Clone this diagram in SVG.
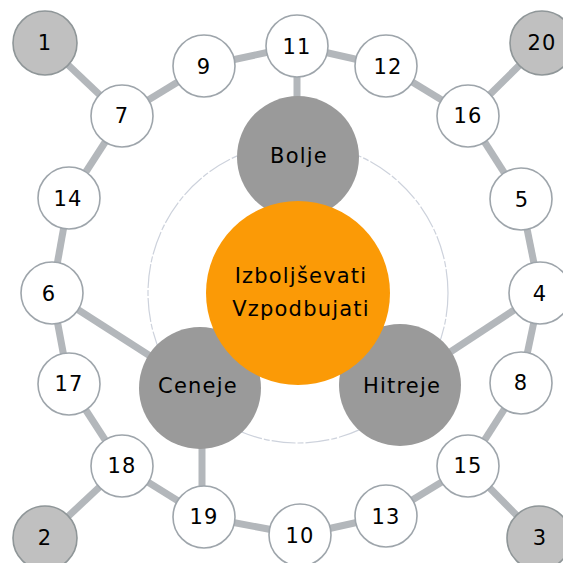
<svg xmlns="http://www.w3.org/2000/svg" width="563" height="563" viewBox="0 0 563 563">
  <style>
    .link { stroke: #b3b7bb; stroke-width: 7; fill: none; }
    .ring { fill: none; stroke: #cdd2dc; stroke-width: 1.2; stroke-dasharray: 24 2 6 2; }
    .node { fill: #ffffff; stroke: #9ea5ab; stroke-width: 1.6; }
    .corner { fill: #c0c0c0; stroke: #8f9698; stroke-width: 1.6; }
    .hub { fill: #9a9a9a; }
    .core { fill: #fb9a06; }
    text { font-family: "DejaVu Sans", Verdana, sans-serif; font-size: 21px; letter-spacing: 1.2px; fill: #000; text-anchor: middle; }
  </style>
  <rect width="563" height="563" fill="#ffffff"/>

  <circle class="ring" cx="298" cy="293" r="150"/>

  <g id="connectors">
    <line class="link" x1="45" y1="43" x2="122" y2="116"/>
    <line class="link" x1="122" y1="116" x2="204" y2="66"/>
    <line class="link" x1="122" y1="116" x2="69" y2="198"/>
    <line class="link" x1="204" y1="66" x2="297" y2="46"/>
    <line class="link" x1="297" y1="46" x2="386" y2="66"/>
    <line class="link" x1="386" y1="66" x2="468" y2="116"/>
    <line class="link" x1="468" y1="116" x2="542" y2="43"/>
    <line class="link" x1="468" y1="116" x2="521" y2="199"/>
    <line class="link" x1="521" y1="199" x2="540" y2="293"/>
    <line class="link" x1="540" y1="293" x2="521" y2="383"/>
    <line class="link" x1="521" y1="383" x2="468" y2="466"/>
    <line class="link" x1="468" y1="466" x2="539" y2="538"/>
    <line class="link" x1="468" y1="466" x2="386" y2="516"/>
    <line class="link" x1="386" y1="516" x2="300" y2="535"/>
    <line class="link" x1="300" y1="535" x2="204" y2="517"/>
    <line class="link" x1="204" y1="517" x2="122" y2="466"/>
    <line class="link" x1="122" y1="466" x2="45" y2="538"/>
    <line class="link" x1="122" y1="466" x2="69" y2="384"/>
    <line class="link" x1="69" y1="384" x2="52" y2="293"/>
    <line class="link" x1="52" y1="293" x2="69" y2="198"/>
    <line class="link" x1="297" y1="46" x2="297" y2="157"/>
    <line class="link" x1="52" y1="293" x2="200" y2="388"/>
    <line class="link" x1="540" y1="293" x2="400" y2="385"/>
    <line class="link" x1="202" y1="517" x2="202" y2="388"/>
  </g>

  <g id="bolje"><circle class="hub" cx="298" cy="157" r="61"/><text x="299" y="163">Bolje</text></g>
  <g id="ceneje"><circle class="hub" cx="200" cy="388" r="61"/><text x="198" y="393">Ceneje</text></g>
  <g id="hitreje"><circle class="hub" cx="400" cy="385" r="61"/><text x="402" y="393">Hitreje</text></g>
  <g id="center">
    <circle class="core" cx="298" cy="293" r="92"/>
    <text x="301" y="283">Izboljševati</text>
    <text x="301" y="316">Vzpodbujati</text>
  </g>

  <g id="n1"><circle class="corner" cx="45" cy="43" r="32"/><text x="45" y="50">1</text></g>
  <g id="n20"><circle class="corner" cx="542" cy="43" r="32"/><text x="542" y="50">20</text></g>
  <g id="n2"><circle class="corner" cx="45" cy="538" r="32"/><text x="45" y="545">2</text></g>
  <g id="n3"><circle class="corner" cx="539" cy="538" r="32"/><text x="540" y="545">3</text></g>

  <g id="n7"><circle class="node" cx="122" cy="116" r="31"/><text x="122" y="123">7</text></g>
  <g id="n9"><circle class="node" cx="204" cy="66" r="31"/><text x="204" y="74">9</text></g>
  <g id="n11"><circle class="node" cx="297" cy="46" r="31"/><text x="297" y="54">11</text></g>
  <g id="n12"><circle class="node" cx="386" cy="66" r="31"/><text x="388" y="74">12</text></g>
  <g id="n16"><circle class="node" cx="468" cy="116" r="31"/><text x="468" y="123">16</text></g>
  <g id="n5"><circle class="node" cx="521" cy="199" r="31"/><text x="522" y="207">5</text></g>
  <g id="n4"><circle class="node" cx="540" cy="293" r="31"/><text x="540" y="301">4</text></g>
  <g id="n8"><circle class="node" cx="521" cy="383" r="31"/><text x="521" y="390">8</text></g>
  <g id="n15"><circle class="node" cx="468" cy="466" r="31"/><text x="468" y="473">15</text></g>
  <g id="n13"><circle class="node" cx="386" cy="516" r="31"/><text x="386" y="524">13</text></g>
  <g id="n10"><circle class="node" cx="300" cy="535" r="31"/><text x="300" y="543">10</text></g>
  <g id="n19"><circle class="node" cx="204" cy="517" r="31"/><text x="204" y="524">19</text></g>
  <g id="n18"><circle class="node" cx="122" cy="466" r="31"/><text x="122" y="473">18</text></g>
  <g id="n17"><circle class="node" cx="69" cy="384" r="31"/><text x="69" y="391">17</text></g>
  <g id="n6"><circle class="node" cx="52" cy="293" r="31"/><text x="49" y="301">6</text></g>
  <g id="n14"><circle class="node" cx="69" cy="198" r="31"/><text x="68" y="206">14</text></g>
</svg>
